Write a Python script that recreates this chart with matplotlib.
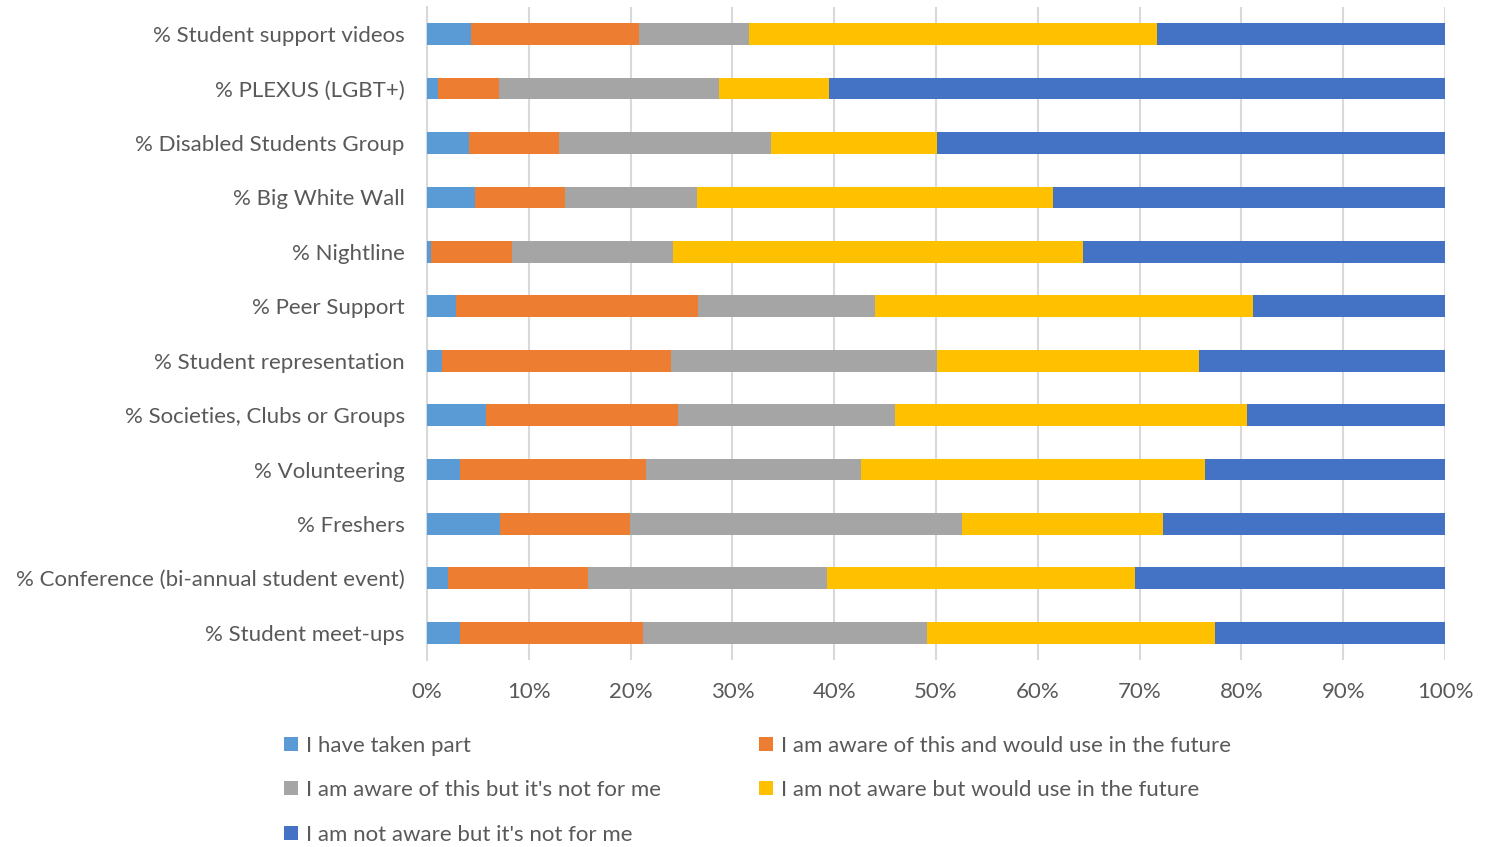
import matplotlib.pyplot as plt
import numpy as np

plt.rcParams['font.family'] = ['Lato', 'DejaVu Sans']

# categories listed bottom to top
categories = ['% Student meet-ups', '% Conference (bi-annual student event)', '% Freshers',
              '% Volunteering', '% Societies, Clubs or Groups', '% Student representation',
              '% Peer Support', '% Nightline', '% Big White Wall', '% Disabled Students Group',
              '% PLEXUS (LGBT+)', '% Student support videos']

taken_part = [3.2, 2.1, 7.2, 3.2, 5.8, 1.5, 2.8, 0.4, 4.7, 4.1, 1.1, 4.3]
aware_would_use = [18.0, 13.7, 12.7, 18.3, 18.9, 22.5, 23.8, 7.9, 8.9, 8.9, 6.0, 16.5]
aware_not_for_me = [27.9, 23.5, 32.7, 21.1, 21.3, 26.1, 17.4, 15.9, 12.9, 20.8, 21.6, 10.8]
not_aware_would_use = [28.3, 30.2, 19.7, 33.8, 34.5, 25.7, 37.1, 40.2, 35.0, 16.3, 10.8, 40.1]
not_aware_not_for_me = [22.6, 30.5, 27.7, 23.6, 19.5, 24.2, 18.9, 35.6, 38.5, 49.9, 60.5, 28.3]

series = [taken_part, aware_would_use, aware_not_for_me, not_aware_would_use, not_aware_not_for_me]
labels = ['I have taken part', 'I am aware of this and would use in the future',
          "I am aware of this but it's not for me", 'I am not aware but would use in the future',
          "I am not aware but it's not for me"]
colors = ['#5B9BD5', '#ED7D31', '#A5A5A5', '#FFC000', '#4472C4']

fig = plt.figure(figsize=(15.01, 8.47), dpi=100)
ax = fig.add_axes([0.2845, 0.2208, 0.6782, 0.771])

y = np.arange(len(categories))
data = np.array(series, dtype=float)
data = data / data.sum(axis=0) * 100
left = np.zeros(len(categories))
handles = []
for vals, lab, col in zip(data, labels, colors):
    h = ax.barh(y, vals, left=left, height=0.4, color=col, label=lab, zorder=3)
    handles.append(h)
    left += vals

ax.set_xlim(0, 100)
ax.set_ylim(-0.5, len(categories) - 0.5)
ax.set_xticks(np.arange(0, 101, 10))
ax.set_xticklabels([f'{v}%' for v in range(0, 101, 10)])
ax.set_yticks(y)
ax.set_yticklabels(categories)
ax.xaxis.grid(True, color='#D9D9D9', linewidth=1.5, zorder=0)
for s in ['top', 'right', 'bottom']:
    ax.spines[s].set_visible(False)
ax.spines['left'].set_color('#D9D9D9')
ax.spines['left'].set_linewidth(1.5)
ax.tick_params(axis='both', length=0, colors='#595959', labelsize=16)
ax.tick_params(axis='x', pad=16)
ax.tick_params(axis='y', pad=16)

# legend filled row by row
order = [0, 2, 4, 1, 3]
leg = fig.legend([handles[i] for i in order], [labels[i] for i in order], ncol=2,
                 loc='upper left', bbox_to_anchor=(0.176, 0.155), frameon=False,
                 fontsize=16, handlelength=0.6, handleheight=0.6, handletextpad=0.4,
                 columnspacing=4.4, labelspacing=1.1, labelcolor='#595959')

fig.savefig('out.png', dpi=100)
